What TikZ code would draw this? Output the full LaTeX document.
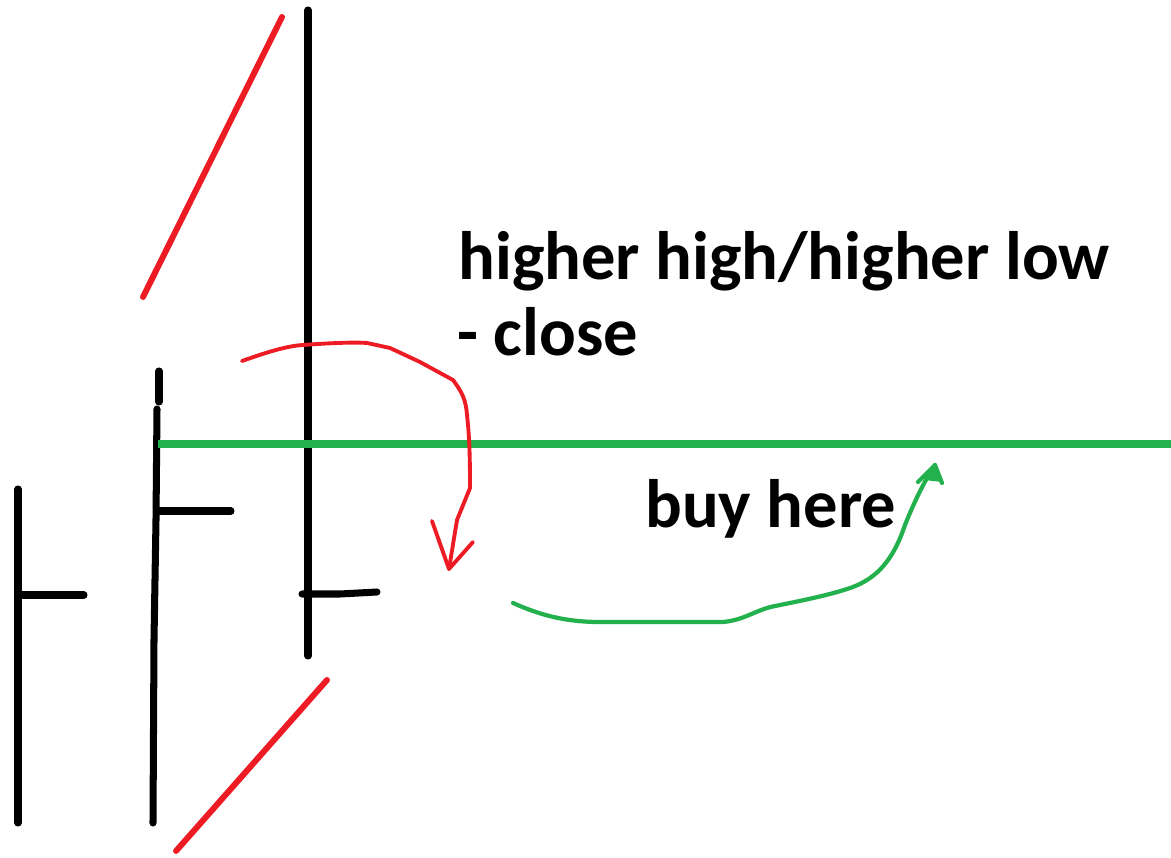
\documentclass[tikz,border=0pt]{standalone}
\usepackage{fontspec}
\setmainfont{Carlito}
\definecolor{pred}{RGB}{237,28,36}
\definecolor{pgreen}{RGB}{34,177,76}
\begin{document}
\begin{tikzpicture}[x=0.02cm,y=-0.02cm,
  bar/.style={line width=4pt,black,line cap=round},
  trend/.style={line width=3.4pt,pred,line cap=round},
  level/.style={line width=4pt,pgreen},
  redarrow/.style={line width=2.2pt,pred,line cap=round,line join=round},
  greenarrow/.style={line width=2.4pt,pgreen,line cap=round,line join=round},
  label/.style={font=\bfseries\fontsize{39}{46}\selectfont,inner sep=0pt,anchor=base west}]
\useasboundingbox (0,0) rectangle (1171,858);
% candle bars
\draw[bar] (18,489) -- (18,823);
\draw[bar] (18,595) -- (84,595);
\draw[bar] (159,371) -- (159,402);
\draw[bar] (157,409) -- (156,520) -- (154,640) -- (153,823);
\draw[bar] (157,511) -- (231,511);
\draw[bar] (308,10) -- (308,656);
\draw[bar] (302,594) -- (340,594) -- (377,592);
% red trend lines
\draw[trend] (143,297) -- (282,17);
\draw[trend] (176,851) -- (327,680);
% green level
\draw[level] (158,444) -- (1171,444);
% text
\node[label] (t1) at (458,280) {higher high/higher low};
\node[label] (t2) at (457,356) {- close};
\node[label] (t3) at (645,527) {buy here};
% red arrow
\coordinate (rs) at (242,361);
\coordinate (rt) at (449,569);
\draw[redarrow] (rs) .. controls (262,354) and (285,346) .. (303,345)
  .. controls (330,343) and (355,342) .. (367,343)
  -- (390,348) -- (420,362) -- (453,380)
  .. controls (462,392) and (466,400) .. (467,415)
  .. controls (470,440) and (470,470) .. (470,488)
  -- (457,520) -- (rt);
\draw[redarrow] (432,521) -- (rt) -- (473,542);
% green arrow
\coordinate (gs) at (513,603);
\coordinate (gt) at (935,465);
\draw[greenarrow] (gs) .. controls (540,615) and (565,622) .. (600,622)
  -- (723,622) .. controls (745,620) and (755,610) .. (775,606)
  .. controls (800,601) and (830,595) .. (850,588)
  .. controls (880,578) and (895,555) .. (905,525)
  .. controls (915,500) and (925,480) .. (gt);
\draw[greenarrow] (918,482) -- (gt) -- (942,483);
\fill[pgreen] (gt) -- (924,480) -- (942,482) -- cycle;
\end{tikzpicture}
\end{document}
